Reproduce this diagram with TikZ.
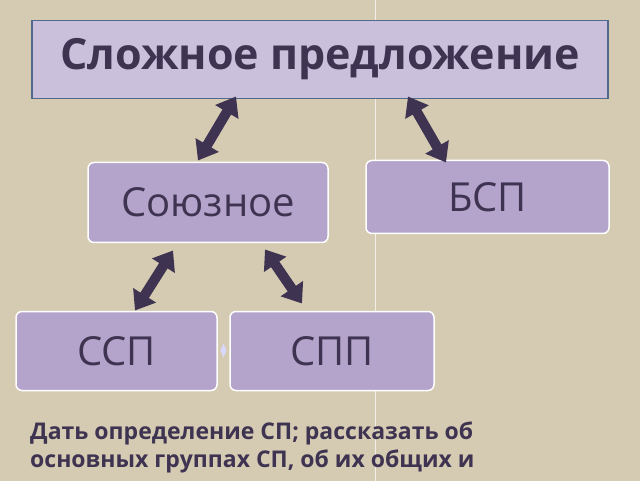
\documentclass[tikz,border=0pt]{standalone}
\usepackage{fontspec}
\setmainfont{Open Sans}
\usetikzlibrary{arrows.meta,shapes.geometric}
\definecolor{bg}{HTML}{D5CBB3}
\definecolor{topf}{HTML}{CBC0DC}
\definecolor{boxf}{HTML}{B4A3CA}
\definecolor{ink}{HTML}{3E3350}
\definecolor{edge}{HTML}{4F6A8C}
\tikzset{
  box/.style={draw=white, line width=1.5pt, fill=boxf, rounded corners=6pt, text=ink, font=\fontsize{40}{46}\selectfont},
  dbl/.style={ink, line width=10pt, {Triangle[width=26pt,length=18pt]}-{Triangle[width=26pt,length=18pt]}}
}
\begin{document}
\begin{tikzpicture}[x=1pt,y=-1pt]
\fill[bg] (0,0) rectangle (640,480);
\draw[white!70!bg, line width=1pt] (375,0) -- (375,480);
\node[draw=edge, line width=1.5pt, fill=topf, minimum width=576pt, minimum height=78pt, text=ink, font=\bfseries\fontsize{43}{50}\selectfont] (top) at (320,59) {Сложное предложение};
\node[box, minimum width=240pt, minimum height=80pt] (soy) at (208,202) {Союзное};
\node[box, minimum width=243pt, minimum height=73pt] (bsp) at (487.5,196.5) {БСП};
\node[box, minimum width=201pt, minimum height=79pt] (ssp) at (116.5,350.5) {ССП};
\node[box, minimum width=204pt, minimum height=79pt] (spp) at (332,350.5) {СПП};
\node[diamond, fill=blue!15!white, minimum width=6pt, minimum height=14pt, inner sep=0pt] (dm) at (223.5,350) {};
\coordinate (a1) at (236,96); \coordinate (b1) at (198,160);
\coordinate (a2) at (408,96); \coordinate (b2) at (446,162);
\coordinate (a3) at (173,250); \coordinate (b3) at (135,310);
\coordinate (a4) at (265,249); \coordinate (b4) at (302,303);
\draw[dbl] (a1) -- (b1);
\draw[dbl] (a2) -- (b2);
\draw[dbl] (a3) -- (b3);
\draw[dbl] (a4) -- (b4);
\node[anchor=west, text=ink, font=\bfseries\fontsize{23}{28}\selectfont, align=left, inner sep=0pt] (txt) at (30,447) {Дать определение СП; рассказать об\\основных группах СП, об их общих и};
\end{tikzpicture}
\end{document}
